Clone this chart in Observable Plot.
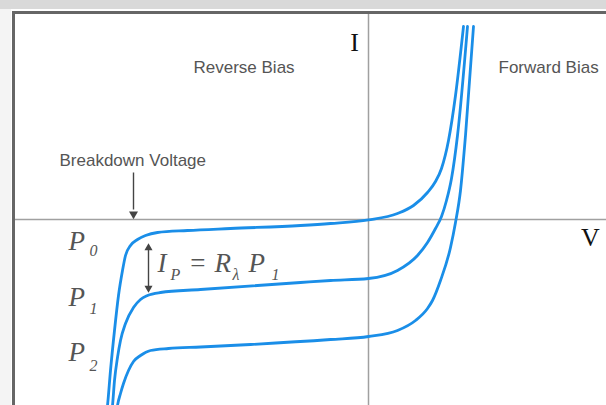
<!DOCTYPE html>
<html>
<head>
<meta charset="utf-8">
<script src="https://cdn.jsdelivr.net/npm/d3@7"></script>
<script src="https://cdn.jsdelivr.net/npm/@observablehq/plot@0.6"></script>
<style>
  html, body { margin: 0; padding: 0; background: #ffffff; }
  #wrap { position: relative; width: 606px; height: 405px; overflow: hidden; background: #ffffff; }
  #chart { position: absolute; left: 0; top: 0; }
  .band-top { position: absolute; left: 0; top: 0; width: 606px; height: 9px; background: #d9d9d9; }
  .band-left { position: absolute; left: 0; top: 9px; width: 11px; height: 396px; background: #f4f4f4; }
  .edge-top { position: absolute; left: 12px; top: 11px; width: 594px; height: 3px; background: #666; }
  .edge-left { position: absolute; left: 12px; top: 11px; width: 3px; height: 394px; background: #666; }
</style>
</head>
<body>
<div id="wrap">
  <div id="chart"></div>
  <div class="band-top"></div>
  <div class="band-left"></div>
  <div class="edge-top"></div>
  <div class="edge-left"></div>
</div>
<script>
// Photodiode I–V characteristics for three light levels P0 > P1 > P2.
// Voltage V (arbitrary units) and current I (arbitrary units).
const p0V = [-6.575, -6.525, -6.45, -6.35, -6.25, -6.15, -6.075, -5.95, -5.775, -5.575, -5.275, -4.525, -3.45, -1.7, -0.95, 0, 0.725, 1.125, 1.475, 1.675, 1.825, 2.0, 2.175, 2.375];
const p0I = [-10.05, -9.3, -7.55, -5.55, -3.8, -2.55, -1.8, -1.3, -1.0, -0.8, -0.65, -0.55, -0.45, -0.3, -0.2, -0.02, 0.3, 0.7, 1.35, 1.9, 2.55, 3.95, 6.2, 9.65];

const p1V = [-6.45, -6.4, -6.35, -6.275, -6.2, -6.075, -5.875, -5.7, -5.525, -5.2, -4.2, -1.7, -0.95, 0, 0.725, 1.225, 1.475, 1.675, 1.825, 1.95, 2.075, 2.225, 2.475];
const p1I = [-10.05, -9.3, -8.05, -6.9, -6.05, -5.2, -4.4, -4.0, -3.8, -3.65, -3.5, -3.15, -3.05, -2.95, -2.55, -1.8, -1.15, -0.45, 0.15, 0.95, 2.05, 4.2, 9.65];

const p2V = [-6.325, -6.275, -6.2, -6.125, -6.0, -5.875, -5.7, -5.45, -5.0, -4.2, -2.95, -0.95, 0, 0.725, 1.175, 1.475, 1.6, 1.8, 2.05, 2.175, 2.3, 2.425, 2.625];
const p2I = [-10.05, -9.3, -8.7, -8.2, -7.55, -7.1, -6.8, -6.55, -6.45, -6.375, -6.25, -6.0, -5.85, -5.55, -5.05, -4.45, -4.05, -3.05, -1.4, -0.15, 1.45, 4.2, 9.65];

const seriesNames = ["P0", "P1", "P2"];
const seriesV = [p0V, p1V, p2V];
const seriesI = [p0I, p1I, p2I];

// Axis titles and region labels
const axisLabels = [
  {text: "I", V: -0.35, I: 8.45},
  {text: "V", V: 5.55, I: -1.3}
];
const regionLabels = [
  {text: "Reverse Bias", V: -4.375, I: 7.35},
  {text: "Forward Bias", V: 3.25, I: 7.35},
  {text: "Breakdown Voltage", V: -7.725, I: 2.7}
];

// Light-level labels P with subscripts
const powerLabels = [
  {main: "P", sub: "0", V: -7.5, I: -1.5, subV: -6.975, subI: -1.8},
  {main: "P", sub: "1", V: -7.5, I: -4.3, subV: -6.975, subI: -4.7},
  {main: "P", sub: "2", V: -7.5, I: -7.05, subV: -6.975, subI: -7.55}
];

// Photocurrent relation I_P = R_λ P_1
const formulaMain = [
  {text: "I", V: -5.275, I: -2.6},
  {text: "=", V: -4.5, I: -2.6},
  {text: "R", V: -3.85, I: -2.6},
  {text: "P", V: -3.0, I: -2.6}
];
const formulaSub = [
  {text: "P", V: -4.95, I: -3.0},
  {text: "λ", V: -3.4, I: -3.0},
  {text: "1", V: -2.425, I: -3.0}
];

// Arrows: breakdown pointer and photocurrent span
const arrowShafts = [
  {V: -5.875, I1: 2.35, I2: 0.5},
  {V: -5.5, I1: -1.3, I2: -3.55}
];
const arrowHeads = [
  {V: -5.875, I: 0.275, rot: 180, r: 3.7},
  {V: -5.5, I: -1.415, rot: 0, r: 3.0},
  {V: -5.5, I: -3.435, rot: 180, r: 3.0}
];

const curves = seriesNames.flatMap((name, k) =>
  seriesV[k].map((v, i) => ({series: name, V: v, I: seriesI[k][i]}))
);

const ink = "#555";
const blue = "#1a8ee8";
const serif = "Liberation Serif, Times New Roman, serif";
const sans = "Liberation Sans, Arial, Helvetica, sans-serif";

const plot = Plot.plot({
  width: 606,
  height: 405,
  marginLeft: 15,
  marginTop: 14,
  marginRight: 0,
  marginBottom: 0,
  x: {domain: [-8.825, 5.95], axis: null},
  y: {domain: [-9.3, 10.25], axis: null},
  style: {background: "transparent", overflow: "hidden"},
  marks: [
    Plot.ruleY([0], {stroke: "#a0a0a0", strokeWidth: 1.5}),
    Plot.ruleX([0], {stroke: "#a0a0a0", strokeWidth: 1.5}),
    Plot.line(curves, {x: "V", y: "I", z: "series", stroke: blue, strokeWidth: 2.8, curve: "monotone-x"}),
    Plot.link(arrowShafts, {x1: "V", x2: "V", y1: "I1", y2: "I2", stroke: "#444", strokeWidth: 1.4}),
    Plot.dot(arrowHeads, {x: "V", y: "I", r: "r", rotate: "rot", symbol: "triangle", fill: "#444", stroke: "none"}),
    Plot.text(axisLabels, {x: "V", y: "I", text: "text", textAnchor: "middle", lineAnchor: "bottom",
      fontFamily: serif, fontSize: 26, fill: "#111"}),
    Plot.text(regionLabels, {x: "V", y: "I", text: "text", textAnchor: "start", lineAnchor: "bottom",
      fontFamily: sans, fontSize: 17, fill: ink}),
    Plot.text(powerLabels, {x: "V", y: "I", text: "main", textAnchor: "start", lineAnchor: "bottom",
      fontFamily: serif, fontStyle: "italic", fontSize: 27, fill: ink}),
    Plot.text(powerLabels, {x: "subV", y: "subI", text: "sub", textAnchor: "start", lineAnchor: "bottom",
      fontFamily: serif, fontStyle: "italic", fontSize: 16, fill: ink}),
    Plot.text(formulaMain, {x: "V", y: "I", text: "text", textAnchor: "start", lineAnchor: "bottom",
      fontFamily: serif, fontStyle: "italic", fontSize: 27, fill: ink}),
    Plot.text(formulaSub, {x: "V", y: "I", text: "text", textAnchor: "start", lineAnchor: "bottom",
      fontFamily: serif, fontStyle: "italic", fontSize: 16, fill: ink})
  ]
});

document.getElementById("chart").appendChild(plot);
</script>
</body>
</html>
